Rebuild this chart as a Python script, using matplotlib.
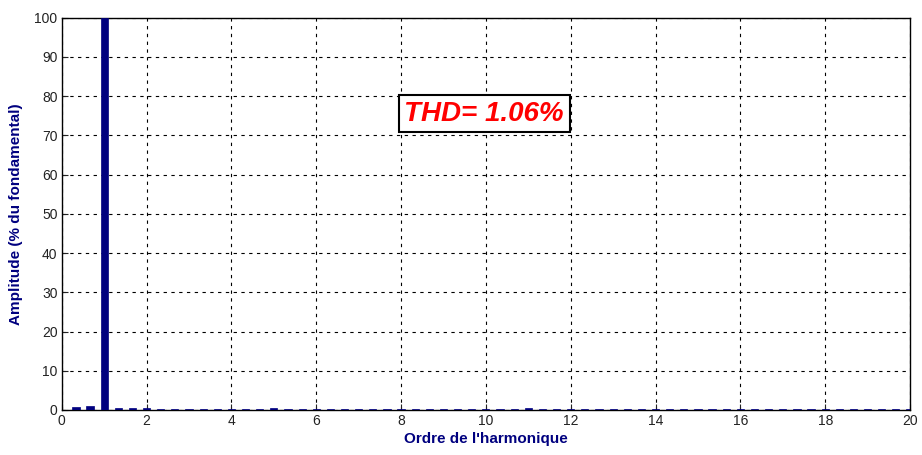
import matplotlib
matplotlib.use("Agg")
import matplotlib.pyplot as plt

plt.rcParams['font.family'] = ['Liberation Sans', 'DejaVu Sans']

# harmonic orders (steps of 1/3) and amplitudes (% of fundamental)
orders = [k / 3 for k in range(1, 61)]
amplitudes = [
    0.7, 0.9, 100.0, 0.4, 0.4, 0.4, 0.2, 0.2, 0.2, 0.2,
    0.2, 0.2, 0.2, 0.2, 0.5, 0.2, 0.2, 0.2, 0.2, 0.2,
    0.2, 0.2, 0.2, 0.2, 0.2, 0.2, 0.2, 0.2, 0.2, 0.2,
    0.2, 0.2, 0.5, 0.2, 0.2, 0.2, 0.2, 0.2, 0.2, 0.2,
    0.2, 0.2, 0.2, 0.2, 0.2, 0.2, 0.2, 0.2, 0.2, 0.2,
    0.2, 0.2, 0.2, 0.2, 0.2, 0.2, 0.2, 0.2, 0.2, 0.2,
]
xticks = list(range(0, 21, 2))
yticks = list(range(0, 101, 10))
thd_text = "THD= 1.06%"
xlabel = "Ordre de l'harmonique"
ylabel = "Amplitude (% du fondamental)"

navy = "#00007F"

fig = plt.figure(figsize=(9.22, 4.55), dpi=100)
ax = fig.add_axes([0.067, 0.099, 0.92, 0.862])
ax.bar(orders, amplitudes, width=0.17, color=navy, edgecolor=navy, linewidth=0.5, zorder=3)

ax.set_xlim(0, 20)
ax.set_ylim(0, 100)
ax.set_xticks(xticks)
ax.set_yticks(yticks)
ax.tick_params(direction='in', length=4, labelsize=10, colors='#222222', pad=3)
ax.grid(True, color='black', linestyle=(0, (3, 4)), linewidth=0.8, zorder=1)
for s in ax.spines.values():
    s.set_color('black')
    s.set_linewidth(1.0)

ax.set_xlabel(xlabel, color=navy, fontsize=11, fontweight='bold', labelpad=3)
ax.set_ylabel(ylabel, color=navy, fontsize=11, fontweight='bold', labelpad=8)

ax.text(9.96, 75.5, thd_text, color='red', fontsize=20, fontweight='bold',
        fontstyle='italic', ha='center', va='center', zorder=5,
        bbox=dict(facecolor='white', edgecolor='black', linewidth=1.5,
                  boxstyle='square,pad=0.2'))

fig.savefig('out.png', dpi=100)
